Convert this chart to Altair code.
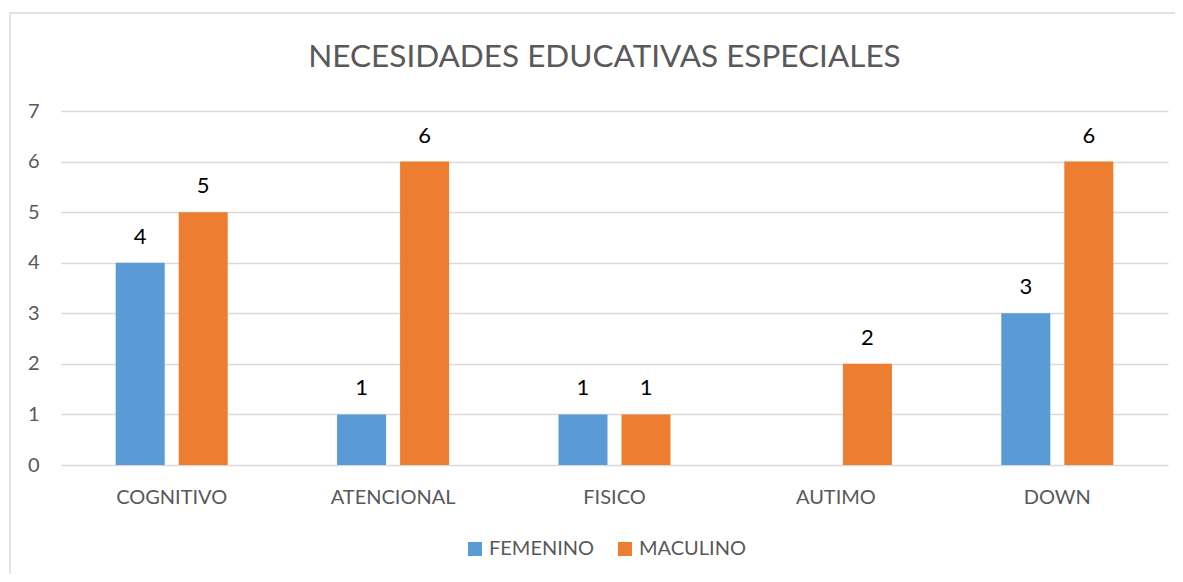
import altair as alt
import pandas as pd

categories = ["COGNITIVO", "ATENCIONAL", "FISICO", "AUTIMO", "DOWN"]
series = ["FEMENINO", "MACULINO"]
femenino = [4, 1, 1, None, 3]
masculino = [5, 6, 1, 2, 6]
colors = ["#5B9BD5", "#ED7D31"]
title_text = "NECESIDADES EDUCATIVAS ESPECIALES"

rows = []
for c, f, m in zip(categories, femenino, masculino):
    rows.append({"cat": c, "serie": series[0], "val": f})
    rows.append({"cat": c, "serie": series[1], "val": m})
df = pd.DataFrame(rows)

FONT = "Lato"
GREY = "#595959"

x = alt.X("cat:N", sort=categories, title=None,
          scale=alt.Scale(paddingInner=0.494, paddingOuter=0.247),
          axis=alt.Axis(labelAngle=0, domain=False, ticks=False, labelPadding=22,
                        labelFontSize=20, labelColor=GREY, labelFont=FONT))
xo = alt.XOffset("serie:N", sort=series,
                 scale=alt.Scale(domain=series, paddingInner=0.222, paddingOuter=0))
y = alt.Y("val:Q", title=None,
          scale=alt.Scale(domain=[0, 7], nice=False),
          axis=alt.Axis(values=[0, 1, 2, 3, 4, 5, 6, 7], domain=False, ticks=False,
                        labelPadding=22, labelFontSize=20, labelColor=GREY, labelFont=FONT,
                        gridColor="#D9D9D9", gridWidth=1.3))

base = alt.Chart(df).transform_filter("datum.val != null")

bars = base.mark_bar().encode(
    x=x, xOffset=xo, y=y,
    color=alt.Color("serie:N", sort=series,
                    scale=alt.Scale(domain=series, range=colors),
                    legend=alt.Legend(title=None, orient="none", direction="horizontal",
                                      legendX=404, legendY=428,
                                      symbolType="square", symbolSize=196,
                                      symbolStrokeWidth=0, symbolOpacity=1,
                                      labelFontSize=20, labelColor=GREY, labelFont=FONT,
                                      columnPadding=20, labelOffset=4)),
)

labels = base.mark_text(baseline="alphabetic", dy=-19, fontSize=22, font=FONT,
                        color="#000000").encode(
    x=x, xOffset=xo, y=y, text=alt.Text("val:Q", format="d"))

border = alt.Chart(alt.Data(values=[{}])).mark_rect(
    fill=None, stroke="#D9D9D9", strokeWidth=1.5, clip=False).encode(
    x=alt.value(-51), x2=alt.value(1200), y=alt.value(-98), y2=alt.value(600))

chart = alt.layer(border, bars, labels).properties(
    width=1107, height=354,
    autosize=alt.AutoSizeParams(type="none"),
    padding={"left": 53, "top": 103, "right": 7, "bottom": 109},
    title=alt.TitleParams(title_text, fontSize=31.5, font=FONT, fontWeight="normal",
                          color=GREY, anchor="middle", offset=-86, dx=-10,
                          baseline="alphabetic"),
).configure_view(stroke=None)

chart.save("out.html", embed_options={"renderer": "svg", "actions": False})
